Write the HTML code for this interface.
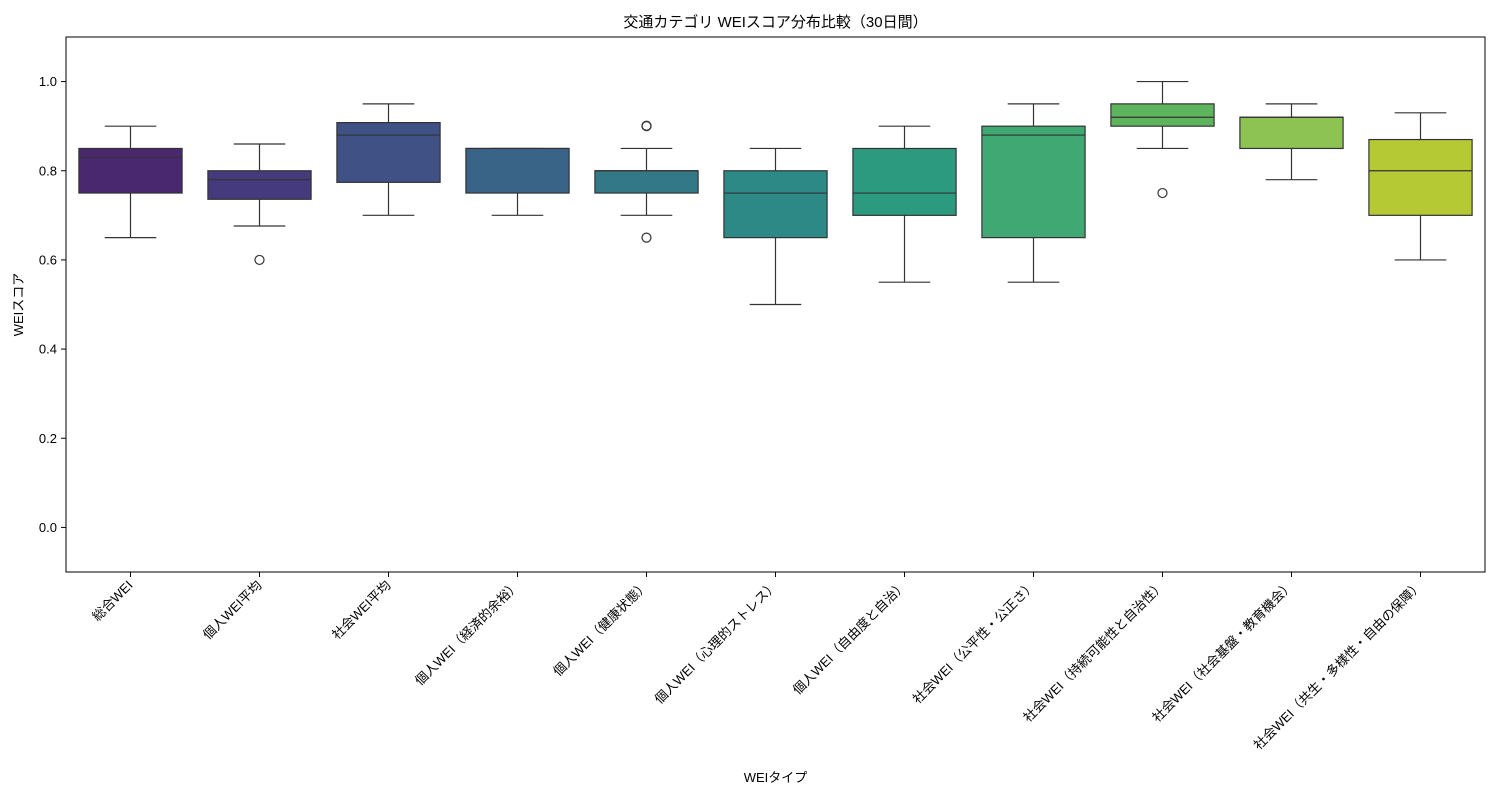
<!DOCTYPE html>
<html><head><meta charset="utf-8"><style>
body{margin:0;background:#fff;}
svg text{font-family:"Liberation Sans","Noto Sans CJK JP",sans-serif;fill:#000;}
</style></head><body>
<svg id="chart" width="1500" height="800"></svg>
<script>
const categories=["総合WEI","個人WEI平均","社会WEI平均","個人WEI（経済的余裕）","個人WEI（健康状態）","個人WEI（心理的ストレス）","個人WEI（自由度と自治）","社会WEI（公平性・公正さ）","社会WEI（持続可能性と自治性）","社会WEI（社会基盤・教育機会）","社会WEI（共生・多様性・自由の保障）"];
const whiskerLow=[0.65,0.676,0.70,0.70,0.70,0.50,0.55,0.55,0.85,0.78,0.60];
const q1=[0.75,0.736,0.774,0.75,0.75,0.65,0.70,0.65,0.90,0.85,0.70];
const median=[0.83,0.78,0.88,0.85,0.80,0.75,0.75,0.88,0.92,0.92,0.80];
const q3=[0.85,0.80,0.908,0.85,0.80,0.80,0.85,0.90,0.95,0.92,0.87];
const whiskerHigh=[0.90,0.86,0.95,0.85,0.85,0.85,0.90,0.95,1.00,0.95,0.93];
const outliers=[[],[0.60],[],[],[0.90,0.901,0.65],[],[],[],[0.75],[],[]];
const yTicks=[0.0,0.2,0.4,0.6,0.8,1.0];
const colors=["#4a2870","#453a7c","#3f5185","#3a6487","#337887","#2d8986","#2b9a7f","#40a872","#5eb45c","#8dc353","#b5c934"];
const NS="http://www.w3.org/2000/svg";
const svg=document.getElementById('chart');
const L=66,R=1485,T=37,B=572,yMin=-0.1,yMax=1.1;
const y=v=>B-(v-yMin)/(yMax-yMin)*(B-T);
const step=(R-L)/categories.length;
const x=i=>L+step*(i+0.5);
function el(tag,attrs,parent){const e=document.createElementNS(NS,tag);for(const k in attrs)e.setAttribute(k,attrs[k]);(parent||svg).appendChild(e);return e;}
// title
let t=el('text',{x:(L+R)/2,y:27,'text-anchor':'middle','font-size':15});t.textContent="交通カテゴリ WEIスコア分布比較（30日間）";


// y ticks
yTicks.forEach(v=>{
  const g=el('g',{});
  
  
  el('line',{x1:L-5,x2:L,y1:y(v),y2:y(v),stroke:'#000','stroke-width':1},g);
  const tx=el('text',{x:L-9,y:y(v)+4.5,'text-anchor':'end','font-size':13},g);tx.textContent=v.toFixed(1);
});
// boxes
const bw=step*0.8;
categories.forEach((c,i)=>{
  const g=el('g',{});
  
  
  const cx=x(i),st={stroke:'#333','stroke-width':1.2};
  el('line',Object.assign({x1:cx,x2:cx,y1:y(whiskerLow[i]),y2:y(q1[i])},st),g);
  el('line',Object.assign({x1:cx,x2:cx,y1:y(q3[i]),y2:y(whiskerHigh[i])},st),g);
  el('line',Object.assign({x1:cx-bw/4,x2:cx+bw/4,y1:y(whiskerLow[i]),y2:y(whiskerLow[i])},st),g);
  el('line',Object.assign({x1:cx-bw/4,x2:cx+bw/4,y1:y(whiskerHigh[i]),y2:y(whiskerHigh[i])},st),g);
  el('rect',Object.assign({x:cx-bw/2,y:y(q3[i]),width:bw,height:Math.max(0.5,y(q1[i])-y(q3[i])),fill:colors[i]},st),g);
  el('line',Object.assign({x1:cx-bw/2,x2:cx+bw/2,y1:y(median[i]),y2:y(median[i])},st),g);
  outliers[i].forEach(o=>el('circle',Object.assign({cx:cx,cy:y(o),r:4.5,fill:'none'},st),g));
  // x tick
  el('line',{x1:cx,x2:cx,y1:B,y2:B+5,stroke:'#000'});
  const lb=el('text',{x:cx+3,y:B+14,'text-anchor':'end','font-size':13,transform:`rotate(-45 ${cx+3} ${B+14})`});
  lb.textContent=c;
  
  
});
// frame
const fr=el('rect',{x:L,y:T,width:R-L,height:B-T,fill:'none',stroke:'#000','stroke-width':1});


let xl=el('text',{x:(L+R)/2,y:782,'text-anchor':'middle','font-size':13});xl.textContent="WEIタイプ";


let yl=el('text',{x:23,y:(T+B)/2,'text-anchor':'middle','font-size':13,transform:`rotate(-90 23 ${(T+B)/2})`});yl.textContent="WEIスコア";


</script>
</body></html>
